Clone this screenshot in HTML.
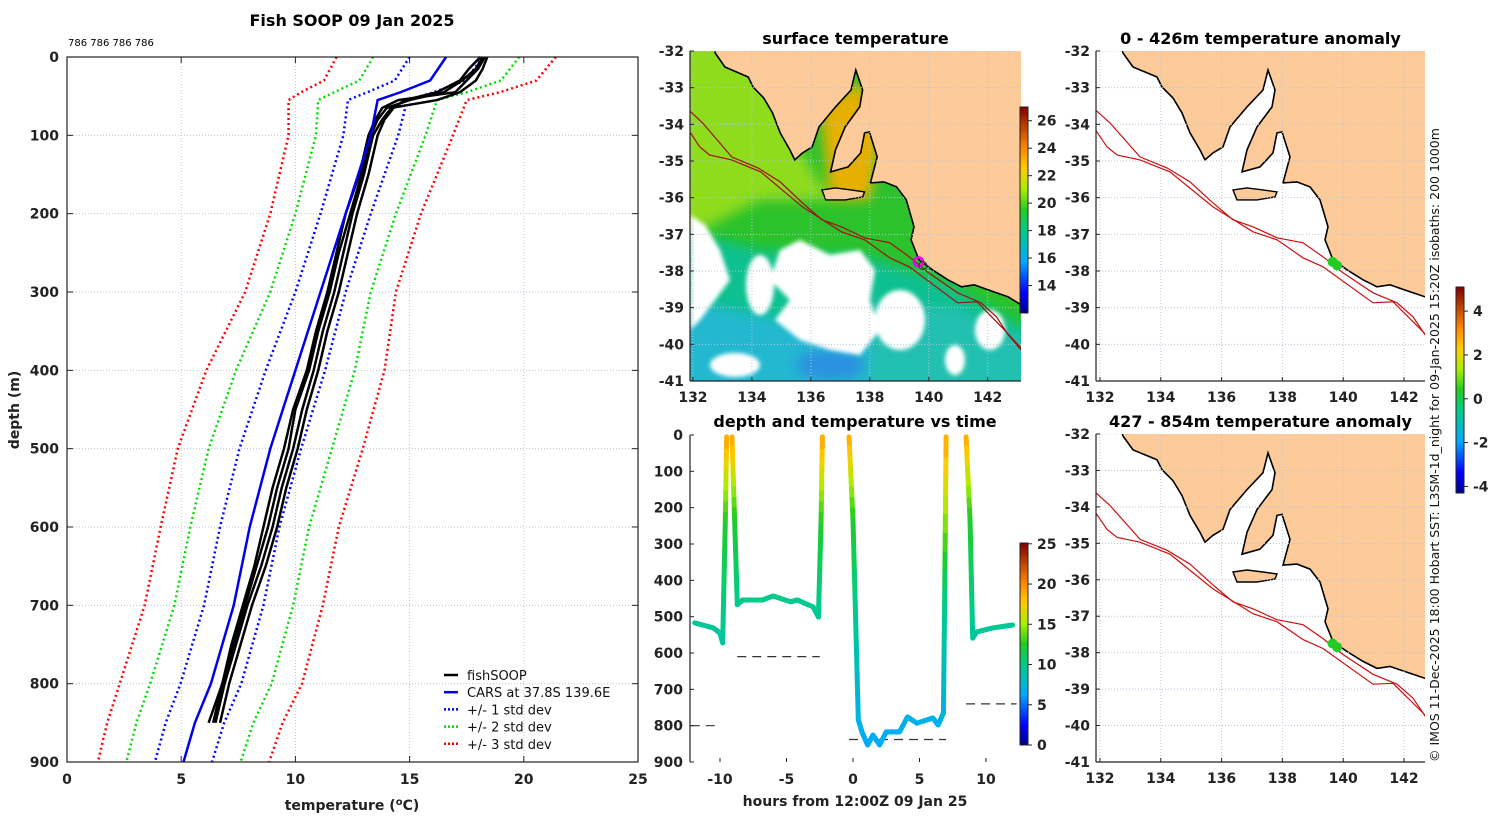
<!DOCTYPE html>
<html><head><meta charset="utf-8">
<style>
html,body{margin:0;padding:0;background:#fff;}
svg{display:block;font-family:"DejaVu Sans","Liberation Sans",sans-serif;}
.tk{font-size:14px;font-weight:bold;fill:#222;}
.ttl{font-size:16px;font-weight:bold;fill:#000;}
.grid{stroke:#b8c4dc;stroke-width:1;stroke-dasharray:1,2;}
</style></head>
<body>
<svg id="fig" width="1500" height="820" viewBox="0 0 1500 820">
<defs>
<filter id="blur6"><feGaussianBlur stdDeviation="6"/></filter>
<filter id="blur3"><feGaussianBlur stdDeviation="2"/></filter>
<clipPath id="sstclip"><rect x="690" y="51" width="331" height="330"/></clipPath>
<clipPath id="clip-sst"><rect x="690" y="51" width="331" height="330"/></clipPath>
<clipPath id="clip-an1"><rect x="1096" y="51" width="329" height="330"/></clipPath>
<clipPath id="clip-an2"><rect x="1096" y="434" width="329" height="328"/></clipPath>
<linearGradient id="jetv" x1="0" y1="1" x2="0" y2="0">
<stop offset="0" stop-color="#00008f"/><stop offset="0.1" stop-color="#0000ff"/><stop offset="0.25" stop-color="#00aaff"/><stop offset="0.4" stop-color="#00cc88"/><stop offset="0.5" stop-color="#22cc22"/><stop offset="0.6" stop-color="#aaee00"/><stop offset="0.7" stop-color="#ffcc00"/><stop offset="0.8" stop-color="#ff8800"/><stop offset="1" stop-color="#800000"/>
</linearGradient>
</defs>
<text class="ttl" x="352" y="26" text-anchor="middle">Fish SOOP 09 Jan 2025</text>
<text x="68" y="46" font-size="10" fill="#000">786 786 786 786</text>
<g id="prof"></g>
<g id="sst"></g>
<g id="tser"></g>
<g id="an1"></g>
<g id="an2"></g>
<text transform="translate(1439,762) rotate(-90)" font-size="12.5" fill="#111">© IMOS 11-Dec-2025 18:00 Hobart SST: L3SM-1d_night for 09-Jan-2025 15:20Z isobaths: 200  1000m</text>
</svg>
<script>
// ---------- profile data ----------
const carsDepth=[0,30,45,55,100,200,300,400,500,600,700,800,850,900];
const carsTemp=[16.6,15.9,14.6,13.6,13.3,12.2,11.1,10.0,8.9,8.0,7.3,6.3,5.6,5.1];
const carsStd=[1.6,1.55,1.45,1.3,1.2,1.1,1.1,1.3,1.35,1.3,1.3,1.33,1.28,1.25];
const castDepth=[0,15,30,45,55,65,80,100,150,200,250,300,350,400,450,500,550,600,650,700,750,800,850];
const cast1=[18.3,18.0,17.5,17.0,14.5,13.8,13.5,13.2,12.8,12.2,11.8,11.4,10.9,10.5,9.9,9.5,9.0,8.6,8.2,7.7,7.2,6.8,6.2];
const cast2=[18.4,18.2,17.9,17.2,16.2,14.2,13.8,13.4,13.0,12.5,12.1,11.7,11.2,10.8,10.3,9.9,9.4,9.0,8.5,7.9,7.4,6.9,6.5];
const cast3=[18.2,17.9,17.3,16.5,15.0,14.0,13.6,13.3,12.9,12.4,11.9,11.5,11.0,10.6,10.0,9.7,9.2,8.8,8.3,7.8,7.3,6.8,6.4];
const cast4=[18.1,17.6,17.2,16.2,14.8,14.3,13.9,13.6,13.2,12.7,12.3,11.9,11.4,11.0,10.5,10.1,9.6,9.2,8.7,8.1,7.6,7.1,6.7];
const profXTicks=[0,5,10,15,20,25];
const profYTicks=[0,100,200,300,400,500,600,700,800,900];
// ---------- time series data ----------
const tsTime=[-11.9,-10.5,-10,-9.8,-9.6,-9.5,null,-9.1,-8.9,-8.7,-8.3,-6.8,-6,-4.7,-4.2,-3,-2.6,-2.4,-2.3,null,-0.3,0,0.4,0.7,1.1,1.5,2,2.5,3.5,4.1,4.8,6,6.4,6.8,6.9,7.0,null,8.5,8.8,9.0,9.3,10.5,12];
const tsDepth=[517,531,545,572,234,5,null,5,234,467,454,454,443,459,454,473,501,234,5,null,5,234,784,820,853,826,853,817,817,776,793,779,798,765,418,5,null,5,234,559,542,531,523];
const tsTemp=[9.6,9.5,9.4,9.2,12.3,19,null,19,12.3,9.8,9.9,9.9,10,9.8,9.9,9.7,9.5,12.3,19,null,19,12.3,7,6.7,6.4,6.6,6.4,6.7,6.7,7,6.9,7,6.9,7.1,10.5,19,null,19,12.3,9.3,9.4,9.5,9.6];
const bottomStart=[-12.2,-8.7,-0.3,8.5];
const bottomEnd=[-10.2,-2.5,7,12.3];
const bottomDepth=[800,610,838,740];
const tsXTicks=[-10,-5,0,5,10];
const tsYTicks=[0,100,200,300,400,500,600,700,800,900];
// ---------- map data (lon/lat) ----------
const ns='http://www.w3.org/2000/svg';
function mk(tag,attrs,parent){const e=document.createElementNS(ns,tag);for(const k in attrs)e.setAttribute(k,attrs[k]);if(parent)parent.appendChild(e);return e;}
const px2ll=p=>[132+(p[0]-1100)/30.4,-32-(p[1]-51)/36.7];
const coastLL=[[1120,40],[1123,53],[1133,67],[1157,77],[1162,87],[1173,98],[1182,113],[1190,133],[1200,150],[1205,160],[1213,153],[1223,147],[1230,127],[1247,107],[1263,90],[1268,70],[1275,90],[1272,107],[1257,127],[1247,150],[1242,172],[1260,167],[1273,153],[1277,133],[1282,132],[1290,157],[1283,183],[1297,182],[1310,187],[1320,200],[1328,227],[1325,240],[1333,260],[1347,270],[1363,280],[1377,287],[1390,285],[1410,292],[1425,297],[1450,312],[1470,325],[1470,40]].map(px2ll);
const islandLL=[[1233,190],[1247,188],[1263,190],[1277,192],[1275,197],[1257,200],[1237,200]].map(px2ll);
const iso200LL=[[1090,105],[1110,123],[1140,157],[1167,168],[1190,182],[1213,203],[1233,220],[1253,227],[1277,238],[1303,243],[1323,257],[1343,273],[1373,293],[1397,303],[1413,317],[1425,335],[1440,352]].map(px2ll);
const iso1000LL=[[1090,122],[1107,147],[1117,155],[1140,160],[1170,172],[1213,207],[1253,232],[1277,240],[1303,258],[1323,267],[1373,303],[1393,302],[1423,332],[1440,350]].map(px2ll);
const lonTicks=[132,134,136,138,140,142];
const latTicks=[-32,-33,-34,-35,-36,-37,-38,-39,-40,-41];
const castLon=[139.65,139.8], castLat=[-37.75,-37.85];

function jet(v){
  const stops=[[0,[0,0,143]],[0.1,[0,0,255]],[0.25,[0,170,255]],[0.4,[0,204,136]],[0.5,[34,204,34]],[0.6,[170,238,0]],[0.7,[255,204,0]],[0.8,[255,136,0]],[1,[128,0,0]]];
  v=Math.max(0,Math.min(1,v));
  for(let i=1;i<stops.length;i++){if(v<=stops[i][0]){const a=stops[i-1],b=stops[i],f=(v-a[0])/(b[0]-a[0]);return 'rgb('+a[1].map((c,j)=>Math.round(c+(b[1][j]-c)*f)).join(',')+')';}}
  return 'rgb(128,0,0)';
}

// ---------- profile panel ----------
(function(){
  const g=document.getElementById('prof');
  const X0=67,X1=638,Y0=57,Y1=762;
  const sx=t=>X0+(t-0)/25*(X1-X0), sy=d=>Y0+d/900*(Y1-Y0);
  profXTicks.forEach(t=>{const l=mk('line',{x1:sx(t),x2:sx(t),y1:Y0,y2:Y1,class:'grid'},g);});
  profYTicks.forEach(d=>{const l=mk('line',{x1:X0,x2:X1,y1:sy(d),y2:sy(d),class:'grid'},g);});
  const styles=[[3,'#ff0000'],[2,'#00dd00'],[1,'#0000ff']];
  styles.forEach(([k,c])=>{[-1,1].forEach(s=>{
    const pts=carsDepth.map((d,i)=>sx(carsTemp[i]+s*k*carsStd[i])+','+sy(d)).join(' ');
    const p=mk('polyline',{points:pts,fill:'none',stroke:c,'stroke-width':2.5,'stroke-dasharray':'2,3'},g);
    
  });});
  [cast1,cast2,cast3,cast4].forEach((c,ci)=>{
    const pts=castDepth.map((d,i)=>sx(c[i])+','+sy(d)).join(' ');
    const p=mk('polyline',{points:pts,fill:'none',stroke:'#000','stroke-width':2.5},g);
    
  });
  const cp=mk('polyline',{points:carsDepth.map((d,i)=>sx(carsTemp[i])+','+sy(d)).join(' '),fill:'none',stroke:'#0000ee','stroke-width':2.5},g);
  
  const fr=mk('rect',{x:X0,y:Y0,width:X1-X0,height:Y1-Y0,fill:'none',stroke:'#222','stroke-width':1.2},g);
  
  profXTicks.forEach(t=>{mk('line',{x1:sx(t),x2:sx(t),y1:Y1,y2:Y1-6,stroke:'#222'},g);mk('line',{x1:sx(t),x2:sx(t),y1:Y0,y2:Y0+6,stroke:'#222'},g);
    const tx=mk('text',{x:sx(t),y:Y1+22,class:'tk','text-anchor':'middle'},g);tx.textContent=t;
    });
  profYTicks.forEach(d=>{mk('line',{x1:X0,x2:X0+6,y1:sy(d),y2:sy(d),stroke:'#222'},g);mk('line',{x1:X1,x2:X1-6,y1:sy(d),y2:sy(d),stroke:'#222'},g);
    const tx=mk('text',{x:X0-8,y:sy(d)+5,class:'tk','text-anchor':'end'},g);tx.textContent=d;
    });
  const xl=mk('text',{x:352,y:810,class:'tk','font-size':'15','text-anchor':'middle'},g);
  xl.innerHTML='temperature (<tspan baseline-shift="super" font-size="10">o</tspan>C)';
  
  const yl=mk('text',{transform:'translate(19,410) rotate(-90)',class:'tk','text-anchor':'middle'},g);yl.textContent='depth (m)';
  
  const leg=[['fishSOOP','#000',''],['CARS at 37.8S 139.6E','#0000ee',''],['+/- 1 std dev','#0000ff','2,2'],['+/- 2 std dev','#00dd00','2,2'],['+/- 3 std dev','#ff0000','2,2']];
  leg.forEach((L,i)=>{const y=675+i*17.2;
    const ln=mk('line',{x1:444,x2:458,y1:y,y2:y,stroke:L[1],'stroke-width':2.5},g);if(L[2])ln.setAttribute('stroke-dasharray',L[2]);
    
    const t=mk('text',{x:467,y:y+5,'font-size':'13',fill:'#111'},g);t.textContent=L[0];
    });
})();

// ---------- map helper ----------
function drawMap(g,X0,Y0,X1,Y1,lonL,lonR,latT,latB,opts){
  const sx=lon=>X0+(lon-lonL)/(lonR-lonL)*(X1-X0), sy=lat=>Y0+(latT-lat)/(latT-latB)*(Y1-Y0);
  const P=a=>a.map(p=>sx(p[0]).toFixed(1)+','+sy(p[1]).toFixed(1)).join(' ');
  const cg=mk('g',{'clip-path':'url(#'+opts.clip+')'},g);
  if(opts.field) opts.field(cg,sx,sy);
  const land=mk('polygon',{points:P(coastLL),fill:'#fccb99',stroke:'#000','stroke-width':1.6},cg);
  
  const isl=mk('polygon',{points:P(islandLL),fill:'#fccb99',stroke:'#000','stroke-width':1.4},cg);
  
  lonTicks.forEach(l=>{const ln=mk('line',{x1:sx(l),x2:sx(l),y1:Y0,y2:Y1,class:'grid'},cg);});
  latTicks.forEach(l=>{const ln=mk('line',{x1:X0,x2:X1,y1:sy(l),y2:sy(l),class:'grid'},cg);});
  [iso200LL,iso1000LL].forEach((a,i)=>{const l=mk('polyline',{points:P(a),fill:'none',stroke:opts.iso,'stroke-width':1.2},cg);
    });
  if(opts.marks) opts.marks(cg,sx,sy);
  mk('line',{x1:X0,x2:X0,y1:Y0,y2:Y1,stroke:'#222','stroke-width':1.2},g);
  mk('line',{x1:X0,x2:X1,y1:Y1,y2:Y1,stroke:'#222','stroke-width':1.2},g);
  lonTicks.forEach(l=>{mk('line',{x1:sx(l),x2:sx(l),y1:Y1,y2:Y1-4,stroke:'#222'},g);
    const t=mk('text',{x:sx(l),y:Y1+21,class:'tk','text-anchor':'middle'},g);t.textContent=l;
    });
  latTicks.forEach(l=>{mk('line',{x1:X0,x2:X0+4,y1:sy(l),y2:sy(l),stroke:'#222'},g);
    const t=mk('text',{x:X0-6,y:sy(l)+5,class:'tk','text-anchor':'end'},g);t.textContent=l;
    });
  const tt=mk('text',{x:(X0+X1)/2,y:Y0-7,class:'ttl','text-anchor':'middle'},g);tt.textContent=opts.title;
  
}
function colorbar(g,x,y0,y1,vmin,vmax,ticks,name){
  const r=mk('rect',{x:x,y:y0,width:8,height:y1-y0,fill:'url(#jetv)',stroke:'#222','stroke-width':1},g);
  
  ticks.forEach(v=>{const y=y1-(v-vmin)/(vmax-vmin)*(y1-y0);mk('line',{x1:x+8,x2:x+12,y1:y,y2:y,stroke:'#222'},g);
    const t=mk('text',{x:x+17,y:y+5,class:'tk','font-size':'13'},g);t.textContent=v;
    });
}

// SST map
(function(){
  const g=document.getElementById('sst');
  drawMap(g,690,51,1021,381,131.9,143.13,-32,-41,{title:'surface temperature',iso:'#a01010',clip:'clip-sst',
    field:(f)=>{
      mk('rect',{x:690,y:51,width:331,height:330,fill:'#2bc22b'},f);
      const b=mk('g',{filter:'url(#blur6)'},f);
      mk('polygon',{points:'680,40 760,40 800,150 830,200 760,200 680,240',fill:'#8fdc1c'},b);
      mk('polygon',{points:'680,230 760,250 860,255 940,280 1030,330 1030,400 680,400',fill:'#10c090'},b);
      mk('polygon',{points:'680,300 780,320 870,330 870,400 680,400',fill:'#22b8d0'},b);
      mk('polygon',{points:'870,300 960,310 1030,340 1030,400 870,400',fill:'#20c0b0'},b);
      mk('ellipse',{cx:830,cy:365,rx:35,ry:15,fill:'#2a90e0'},b);
      mk('polygon',{points:'820,110 860,80 880,140 870,200 830,200',fill:'#e6b000'},b);
      const c=mk('g',{filter:'url(#blur3)',fill:'#fff'},f);
      mk('polygon',{points:'780,250 800,240 830,255 860,250 875,270 870,300 880,330 860,355 830,350 800,340 775,320 790,300 770,280',fill:'#fff'},c);
      mk('polygon',{points:'690,215 705,225 720,250 730,280 715,300 700,320 690,330',fill:'#fff'},c);
      mk('ellipse',{cx:760,cy:285,rx:14,ry:30},c);
      mk('ellipse',{cx:900,cy:320,rx:25,ry:30},c);
      mk('ellipse',{cx:735,cy:365,rx:25,ry:12},c);mk('ellipse',{cx:990,cy:330,rx:15,ry:20},c);
      mk('ellipse',{cx:955,cy:360,rx:10,ry:15},c);
    },
    marks:(g,sx,sy)=>{const c=mk('circle',{cx:sx(castLon[0]),cy:sy(castLat[0]),r:4.5,fill:'none',stroke:'#ee00ee','stroke-width':2.5},g);
      
      mk('circle',{cx:sx(castLon[1]),cy:sy(castLat[1]),r:4,fill:'none',stroke:'#333','stroke-width':1},g);}
  });
  colorbar(g,1020,107,313,12,27,[14,16,18,20,22,24,26],'sst-colorbar');
})();
// anomaly maps
[['an1',51,381,'0 - 426m temperature anomaly','clip-an1'],['an2',434,762,'427 - 854m temperature anomaly','clip-an2']].forEach(([id,y0,y1,title,clip])=>{
  const g=document.getElementById(id);
  drawMap(g,1096,y0,1425,y1,131.87,142.69,-32,-41,{title:title,iso:'#cc1010',clip:clip,
    marks:(g,sx,sy)=>{castLon.forEach((lo,i)=>{const c=mk('circle',{cx:sx(lo),cy:sy(castLat[i]),r:5,fill:'#22cc22'},g);
      });}});
});
colorbar(document.getElementById('an1'),1456,287,493,-4.3,5.1,[4,2,0,-2,-4],'anomaly-colorbar');

// time series panel
(function(){
  const g=document.getElementById('tser');
  const X0=690,Y0=435,Y1=762;
  const sx=t=>853+t*13.3, sy=d=>Y0+d/900*(Y1-Y0);
  bottomDepth.forEach((d,i)=>{const l=mk('line',{x1:sx(bottomStart[i]),x2:sx(bottomEnd[i]),y1:sy(d),y2:sy(d),stroke:'#333','stroke-width':1.2,'stroke-dasharray':'9,6'},g);
    });
  for(let i=1;i<tsTime.length;i++){
    if(tsTime[i]===null||tsTime[i-1]===null)continue;
    const n=8;
    for(let k=0;k<n;k++){
      const f0=k/n,f1=(k+1)/n,fm=(k+0.5)/n;
      const t0=tsTime[i-1]+(tsTime[i]-tsTime[i-1])*f0,t1=tsTime[i-1]+(tsTime[i]-tsTime[i-1])*f1;
      const d0=tsDepth[i-1]+(tsDepth[i]-tsDepth[i-1])*f0,d1=tsDepth[i-1]+(tsDepth[i]-tsDepth[i-1])*f1;
      const tv=tsTemp[i-1]+(tsTemp[i]-tsTemp[i-1])*fm;
      const s=mk('line',{x1:sx(t0),y1:sy(d0),x2:sx(t1),y2:sy(d1),stroke:jet(tv/25),'stroke-width':5,'stroke-linecap':'round'},g);
      
      
    }
  }
  mk('line',{x1:X0,x2:X0,y1:Y0,y2:Y1,stroke:'#222','stroke-width':1.2},g);
  tsYTicks.forEach(d=>{mk('line',{x1:X0,x2:X0+4,y1:sy(d),y2:sy(d),stroke:'#222'},g);
    const t=mk('text',{x:X0-7,y:sy(d)+5,class:'tk','text-anchor':'end'},g);t.textContent=d;
    });
  tsXTicks.forEach(h=>{mk('line',{x1:sx(h),x2:sx(h),y1:Y1,y2:Y1-4,stroke:'#222'},g);
    const t=mk('text',{x:sx(h),y:Y1+22,class:'tk','text-anchor':'middle'},g);t.textContent=h;
    });
  const tt=mk('text',{x:855,y:427,class:'ttl','text-anchor':'middle'},g);tt.textContent='depth and temperature vs time';
  
  const xl=mk('text',{x:855,y:806,class:'tk','font-size':'15','text-anchor':'middle'},g);xl.textContent='hours from 12:00Z 09 Jan 25';
  
  colorbar(g,1020,543,745,0,25.1,[0,5,10,15,20,25],'time-temp-colorbar');
})();
</script>
</body></html>
